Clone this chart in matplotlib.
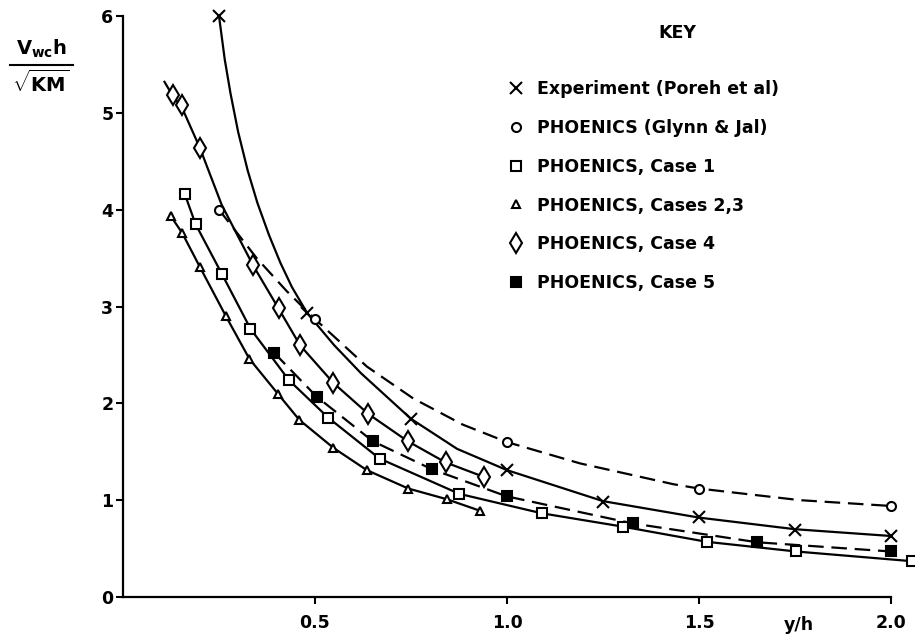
import matplotlib
matplotlib.use("Agg")
import matplotlib.pyplot as plt
from matplotlib.lines import Line2D

plt.rcParams['font.family'] = ['DejaVu Sans']
plt.rcParams['font.weight'] = 'bold'
plt.rcParams['mathtext.fontset'] = 'custom'
plt.rcParams['mathtext.rm'] = 'DejaVu Sans:bold'
plt.rcParams['mathtext.it'] = 'DejaVu Sans:bold'
plt.rcParams['mathtext.bf'] = 'DejaVu Sans:bold'

# ---- data ----
exp_x = [0.25, 0.48, 0.75, 1.0, 1.25, 1.5, 1.75, 2.0]
exp_y = [6.0, 2.93, 1.84, 1.31, 0.98, 0.83, 0.69, 0.63]
exp_curve_x = [0.25, 0.265, 0.28, 0.30, 0.325, 0.35, 0.38, 0.41, 0.44, 0.48, 0.55, 0.62, 0.75, 0.87, 1.0, 1.25, 1.5, 1.75, 2.0]
exp_curve_y = [6.0, 5.55, 5.2, 4.8, 4.4, 4.07, 3.74, 3.45, 3.2, 2.93, 2.6, 2.31, 1.84, 1.53, 1.31, 0.99, 0.82, 0.70, 0.63]

glynn_x = [0.25, 0.5, 1.0, 1.5, 2.0]
glynn_y = [4.0, 2.87, 1.6, 1.12, 0.94]
glynn_curve_x = [0.25, 0.348, 0.426, 0.5, 0.635, 0.756, 0.885, 1.0, 1.19, 1.433, 1.5, 1.763, 2.0]
glynn_curve_y = [4.0, 3.50, 3.16, 2.87, 2.38, 2.05, 1.78, 1.6, 1.38, 1.165, 1.12, 1.0, 0.94]

case1_x = [0.161, 0.189, 0.257, 0.332, 0.432, 0.535, 0.668, 0.876, 1.09, 1.301, 1.52, 1.753, 2.054]
case1_y = [4.16, 3.85, 3.34, 2.77, 2.24, 1.85, 1.43, 1.065, 0.865, 0.727, 0.57, 0.47, 0.37]

case23_x = [0.125, 0.154, 0.2, 0.268, 0.329, 0.403, 0.459, 0.548, 0.635, 0.743, 0.843, 0.93]
case23_y = [3.93, 3.76, 3.41, 2.90, 2.46, 2.10, 1.83, 1.54, 1.31, 1.12, 1.01, 0.89]

case4_x = [0.129, 0.154, 0.2, 0.338, 0.405, 0.461, 0.548, 0.639, 0.741, 0.84, 0.94]
case4_y = [5.18, 5.08, 4.64, 3.43, 2.98, 2.60, 2.21, 1.89, 1.61, 1.39, 1.24]
case4_curve_x = [0.108, 0.129, 0.154, 0.2, 0.257, 0.338, 0.405, 0.461, 0.548, 0.639, 0.741, 0.84, 0.94]
case4_curve_y = [5.32, 5.18, 5.05, 4.64, 4.05, 3.43, 2.98, 2.60, 2.21, 1.89, 1.61, 1.39, 1.24]

case5_x = [0.394, 0.504, 0.65, 0.804, 0.999, 1.327, 1.652, 2.0]
case5_y = [2.52, 2.07, 1.61, 1.32, 1.04, 0.76, 0.565, 0.47]

labels = ["Experiment (Poreh et al)", "PHOENICS (Glynn & Jal)", "PHOENICS, Case 1",
          "PHOENICS, Cases 2,3", "PHOENICS, Case 4", "PHOENICS, Case 5"]
xticks = [0.5, 1.0, 1.5, 2.0]
xticklabels = ["0.5", "1.0", "1.5", "2.0"]
yticks = [0, 1, 2, 3, 4, 5, 6]

# ---- figure ----
W, H = 915, 635
fig = plt.figure(figsize=(W / 100, H / 100), dpi=100)
ax = fig.add_axes([123 / W, 1 - 597 / H, (891 - 123) / W, (597 - 16) / H])
ax.set_xlim(0, 2.0)
ax.set_ylim(0, 6)

lw = 1.6
dash = (0, (7, 3.5))
mk = dict(color='black', mec='black', mew=1.5, clip_on=False, zorder=3)

# lines
ax.plot(exp_curve_x, exp_curve_y, color='black', lw=lw, clip_on=False, zorder=2)
ax.plot(glynn_curve_x, glynn_curve_y, color='black', lw=lw, ls=dash, clip_on=False, zorder=2)
ax.plot(case1_x, case1_y, color='black', lw=lw, clip_on=False, zorder=2)
ax.plot(case23_x, case23_y, color='black', lw=lw, clip_on=False, zorder=2)
ax.plot(case4_curve_x, case4_curve_y, color='black', lw=lw, clip_on=False, zorder=2)
ax.plot(case5_x, case5_y, color='black', lw=lw, ls=dash, clip_on=False, zorder=2)

# markers
ms_x, ms_o, ms_s, ms_t, ms_d = 8, 6.5, 7.3, 6, 10.5
ax.plot(exp_x, exp_y, ls='none', marker='x', ms=ms_x, **mk)
ax.plot(glynn_x, glynn_y, ls='none', marker='o', ms=ms_o, mfc='white', **mk)
ax.plot(case1_x, case1_y, ls='none', marker='s', ms=ms_s, mfc='white', **mk)
ax.plot(case23_x, case23_y, ls='none', marker='^', ms=ms_t, mfc='white', **mk)
ax.plot(case4_x, case4_y, ls='none', marker='d', ms=ms_d, mfc='white', **mk)
ax.plot(case5_x, case5_y, ls='none', marker='s', ms=ms_s, mfc='black', **mk)

# axes styling
for s in ['top', 'right']:
    ax.spines[s].set_visible(False)
for s in ['left', 'bottom']:
    ax.spines[s].set_linewidth(1.6)
ax.set_xticks(xticks)
ax.set_xticklabels(xticklabels)
ax.set_yticks(yticks)
ax.tick_params(axis='both', direction='out', length=5, width=1.5, labelsize=12.5)
ax.tick_params(axis='x', pad=7)
ax.tick_params(axis='y', pad=2)

# axis titles
fig.text(799 / W, 1 - 625 / H, "y/h", fontsize=12.5, ha='center', va='center')
fig.text(41 / W, 1 - 49 / H, r"$\mathrm{V_{wc}h}$", fontsize=14, ha='center', va='center')
fig.add_artist(Line2D([10 / W, 73 / W], [1 - 65 / H, 1 - 65 / H], color='black', lw=1.5))
fig.text(41 / W, 1 - 83 / H, r"$\sqrt{\mathrm{KM}}$", fontsize=14, ha='center', va='center')

# key
fig.text(677 / W, 1 - 33 / H, "KEY", fontsize=12.5, ha='center', va='center')
handles = [
    Line2D([], [], ls='none', marker='x', ms=ms_x, color='black', mew=1.5),
    Line2D([], [], ls='none', marker='o', ms=ms_o, mfc='white', mec='black', mew=1.5),
    Line2D([], [], ls='none', marker='s', ms=ms_s, mfc='white', mec='black', mew=1.5),
    Line2D([], [], ls='none', marker='^', ms=ms_t, mfc='white', mec='black', mew=1.5),
    Line2D([], [], ls='none', marker='d', ms=ms_d, mfc='white', mec='black', mew=1.5),
    Line2D([], [], ls='none', marker='s', ms=ms_s, mfc='black', mec='black', mew=1.5),
]
leg = ax.legend(handles, labels, loc='upper left', bbox_to_anchor=(507 / W, 1 - 80 / H),
                bbox_transform=fig.transFigure, frameon=False, fontsize=12.5,
                handlelength=1.0, handletextpad=0.72, labelspacing=1.2,
                borderpad=0, borderaxespad=0)

fig.savefig("out.png", dpi=100)
